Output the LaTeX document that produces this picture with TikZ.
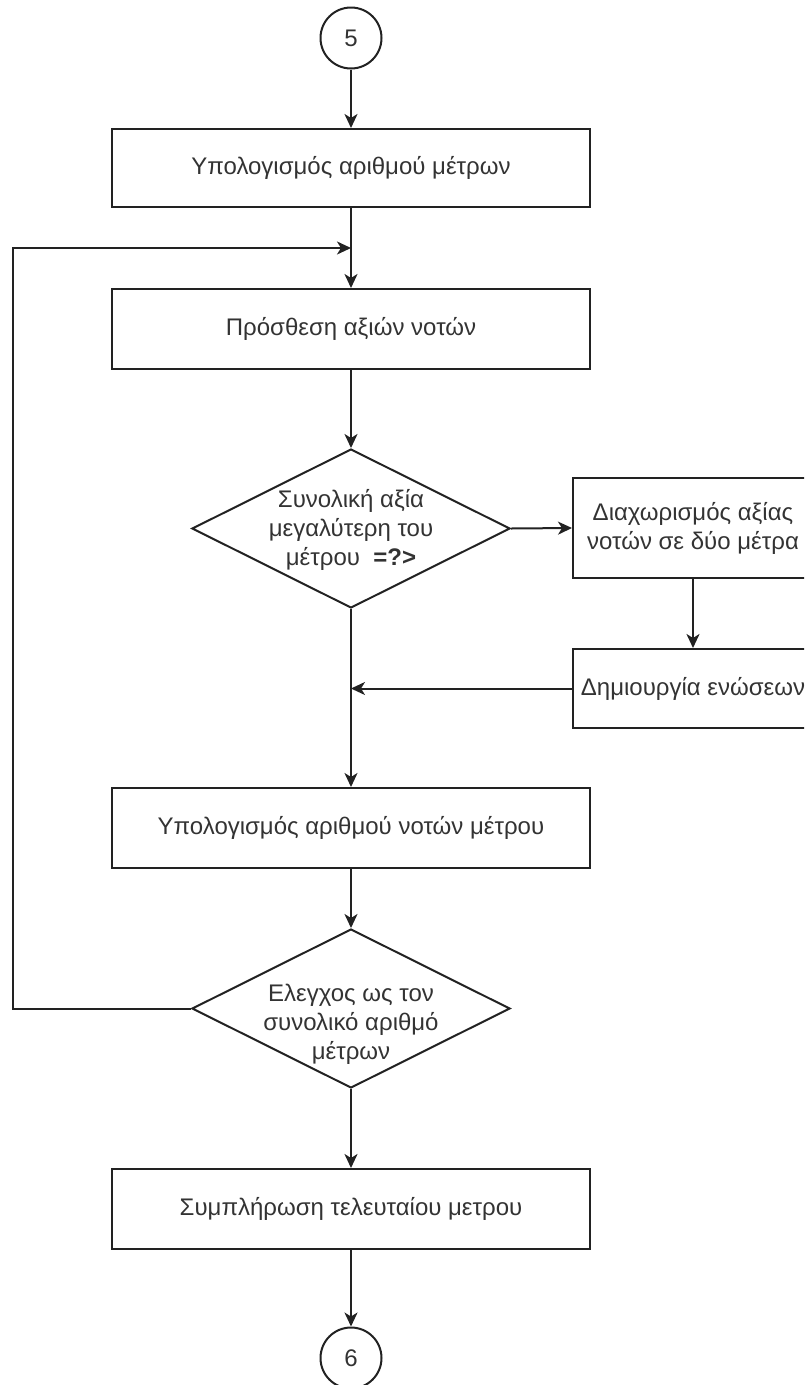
\documentclass[tikz,border=0pt]{standalone}
\usepackage{fontspec}
\setmainfont{Liberation Sans}
\usepackage{tikz}
\usetikzlibrary{arrows.meta,positioning,shapes,calc}
\definecolor{textgray}{RGB}{51,51,51}
\definecolor{linegray}{RGB}{34,34,34}

\begin{document}
\begin{tikzpicture}[x=1pt,y=-1pt,
        every node/.style={font=\fontsize{24}{29}\selectfont, text=textgray},
        procbox/.style={draw=linegray, line width=2pt, minimum width=478pt, minimum height=80pt, inner sep=0pt},
        sidebox/.style={draw=linegray, line width=2pt, minimum width=240pt, inner sep=0pt, align=center},
        decide/.style={diamond, draw=linegray, line width=2pt, minimum width=318pt, minimum height=159pt, inner sep=0pt},
        connector/.style={circle, draw=linegray, line width=2pt, minimum size=61pt, inner sep=0pt},
        flow/.style={-{Stealth[length=14pt,width=13pt,inset=4pt]}, line width=2pt, draw=linegray}]
        \clip (0,0) rectangle (804,1385);
        % main column
        \node[connector] (c5) at (351,38) {5};
        \node[procbox, minimum height=78pt] (bars) at (351,168) {Υπολογισμός αριθμού μέτρων};
        \node[procbox] (addval) at (351,329) {Πρόσθεση αξιών νοτών};
        \node[decide] (check1) at (351,528.5) {};
        \node[align=center] (check1txt) at (351,530) {Συνολική αξία\\μεγαλύτερη του\\μέτρου\ \ \textbf{=?>}};
        \node[procbox] (notes) at (351,828) {Υπολογισμός αριθμού νοτών μέτρου};
        \node[decide] (check2) at (351,1008.5) {};
        \node[align=center] (check2txt) at (351,1024) {Ελεγχος ως τον\\συνολικό αριθμό\\μέτρων};
        \node[procbox] (fillbar) at (351,1209) {Συμπλήρωση τελευταίου μετρου};
        \node[connector] (c6) at (351,1358) {6};
        % side branch
        \node[sidebox, minimum height=100pt] (split) at (693,528) {Διαχωρισμός αξίας\\νοτών σε δύο μέτρα};
        \node[sidebox, minimum height=79pt] (ties) at (693,688.5) {Δημιουργία ενώσεων};
        % loop points
        \coordinate (back) at ($(bars.south)!0.5!(addval.north)$);
        \coordinate (lft) at (13,0);
        % connectors
        \draw[flow] (c5) -- (bars);
        \draw[flow] (bars) -- (addval);
        \draw[flow] (addval) -- (check1);
        \draw[flow] (check1.east) -- (split.west);
        \draw[flow] (split) -- (ties);
        \draw[flow] (ties.west) -- (ties.west -| check1.south);
        \draw[flow] (check1.south) -- (notes.north);
        \draw[flow] (notes) -- (check2);
        \draw[flow] (check2.west) -- (check2.west -| lft) |- (back);
        \draw[flow] (check2.south) -- (fillbar.north);
        \draw[flow] (fillbar) -- (c6);
    \end{tikzpicture}
\end{document}
